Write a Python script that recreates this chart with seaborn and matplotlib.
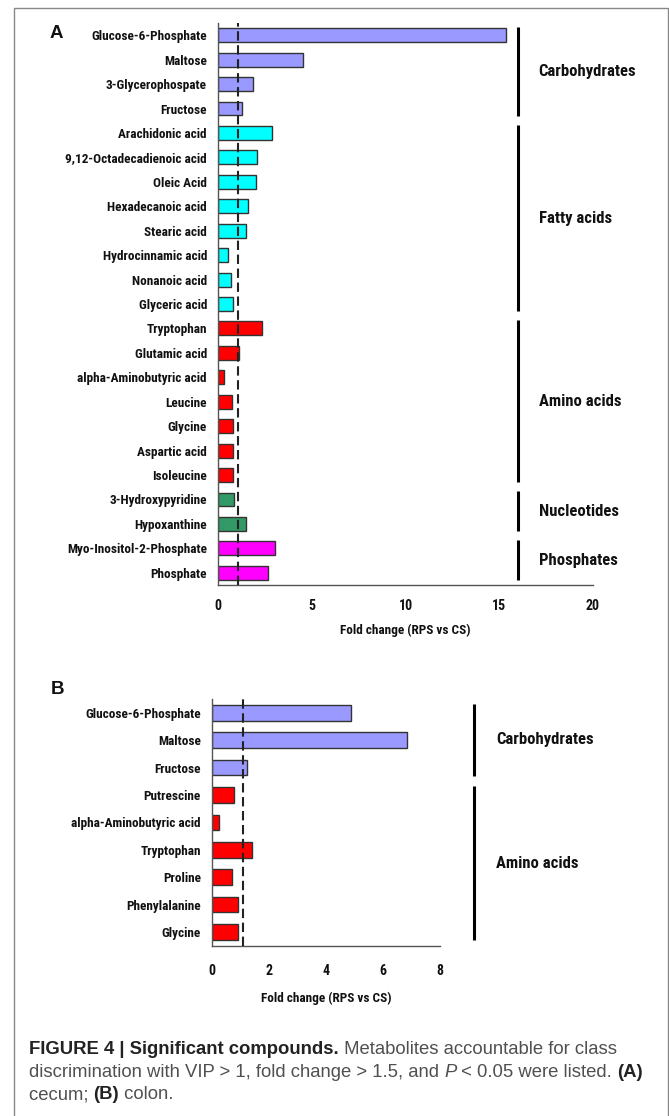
import numpy as np
import pandas as pd
import matplotlib
matplotlib.use("Agg")
import matplotlib.pyplot as plt
import seaborn as sns
from matplotlib.patches import Rectangle

# ---- data ----
cecum_compounds = [
    "Glucose-6-Phosphate", "Maltose", "3-Glycerophospate", "Fructose",
    "Arachidonic acid", "9,12-Octadecadienoic acid", "Oleic Acid",
    "Hexadecanoic acid", "Stearic acid", "Hydrocinnamic acid",
    "Nonanoic acid", "Glyceric acid",
    "Tryptophan", "Glutamic acid", "alpha-Aminobutyric acid", "Leucine",
    "Glycine", "Aspartic acid", "Isoleucine",
    "3-Hydroxypyridine", "Hypoxanthine",
    "Myo-Inositol-2-Phosphate", "Phosphate",
]
cecum_fold = [
    15.37, 4.54, 1.89, 1.30,
    2.90, 2.10, 2.05, 1.62, 1.48, 0.55, 0.68, 0.82,
    2.33, 1.14, 0.30, 0.73, 0.78, 0.82, 0.82,
    0.87, 1.48,
    3.03, 2.65,
]
cecum_group = (["Carbohydrates"] * 4 + ["Fatty acids"] * 8 + ["Amino acids"] * 7
               + ["Nucleotides"] * 2 + ["Phosphates"] * 2)

colon_compounds = [
    "Glucose-6-Phosphate", "Maltose", "Fructose",
    "Putrescine", "alpha-Aminobutyric acid", "Tryptophan", "Proline",
    "Phenylalanine", "Glycine",
]
colon_fold = [4.89, 6.85, 1.22, 0.77, 0.24, 1.41, 0.69, 0.90, 0.90]
colon_group = ["Carbohydrates"] * 3 + ["Amino acids"] * 6

group_colors = {
    "Carbohydrates": "#9999FF",
    "Fatty acids": "#00FFFF",
    "Amino acids": "#FF0000",
    "Nucleotides": "#339966",
    "Phosphates": "#FF00FF",
}

NARROW = ["Roboto Condensed", "DejaVu Sans"]
SANS = ["Liberation Sans", "DejaVu Sans"]
SPINE = "#555555"


def draw_panel(ax, names, fold, groups, xmax, xstep, cutoff, bracket_x, label_x,
               ylim_bottom, tick_pad, xlabel_pad):
    df = pd.DataFrame({"compound": names, "fold": fold, "group": groups})
    sns.barplot(data=df, x="fold", y="compound", hue="group", palette=group_colors,
                dodge=False, width=0.57, edgecolor="#333333", linewidth=1.0,
                saturation=1, legend=False, ax=ax, orient="h")
    ax.axvline(cutoff, color="#222222", lw=1.5, ls=(0, (4.5, 2.2)), zorder=5)

    n = len(names)
    ax.set_xlim(0, xmax)
    ax.set_ylim(ylim_bottom, -0.5)
    ax.set_xticks(np.arange(0, xmax + 0.01, xstep))
    ax.set_yticks(np.arange(-0.5, n, 1.0), minor=True)
    ax.tick_params(axis="y", which="major", length=0, pad=8)
    ax.tick_params(axis="y", which="minor", direction="in", length=4,
                   color=SPINE, width=0.8)
    ax.tick_params(axis="x", direction="in", length=4, color=SPINE, width=0.8,
                   pad=tick_pad)
    for lab in ax.get_yticklabels():
        lab.set_family(NARROW)
        lab.set_fontweight("bold")
        lab.set_fontsize(9.5)
        lab.set_color("#111111")
    for lab in ax.get_xticklabels():
        lab.set_family(NARROW)
        lab.set_fontweight("bold")
        lab.set_fontsize(10)
        lab.set_color("#111111")
    ax.set_ylabel("")
    ax.set_xlabel("Fold change (RPS vs CS)", family=NARROW, fontweight="bold",
                  fontsize=9.5, labelpad=xlabel_pad, color="#111111")
    sns.despine(ax=ax)
    for side in ["left", "bottom"]:
        ax.spines[side].set_color(SPINE)
        ax.spines[side].set_linewidth(1.0)

    # group brackets and names
    seen = []
    for g in groups:
        if g not in seen:
            seen.append(g)
    for g in seen:
        idx = [i for i, gg in enumerate(groups) if gg == g]
        y0, y1 = idx[0] - 0.33, idx[-1] + 0.3
        ax.plot([bracket_x, bracket_x], [y0, y1], color="black", lw=2.2,
                clip_on=False, solid_capstyle="butt")
        ax.text(label_x, (y0 + y1) / 2, g, family=NARROW, fontweight="bold",
                fontsize=12, ha="left", va="center", clip_on=False,
                color="#111111")


def write_runs(fig, x, y, runs, **kw):
    renderer = fig.canvas.get_renderer()
    for text, weight, style, color in runs:
        t = fig.text(x, y, text, fontweight=weight, style=style, ha="left",
                     va="baseline", color=color, **kw)
        bb = t.get_window_extent(renderer=renderer)
        x += bb.width / fig.bbox.width


sns.set_theme(style="white")
plt.rcParams["font.family"] = SANS

fig = plt.figure(figsize=(6.69, 11.16), dpi=100)
W, H = 669, 1116

# outer frame
fig.patches.append(Rectangle((14 / W, -0.02), (668 - 14) / W, 1.02 - 8 / H,
                             transform=fig.transFigure, fill=False,
                             edgecolor="#888888", lw=1.0))

ax_a = fig.add_axes([218 / W, 1 - 585 / H, 375 / W, 562 / H])
draw_panel(ax_a, cecum_compounds, cecum_fold, cecum_group, xmax=20, xstep=5,
           cutoff=1.05, bracket_x=16.0, label_x=17.1, ylim_bottom=22.5,
           tick_pad=10, xlabel_pad=8)

ax_b = fig.add_axes([212 / W, 1 - 945.7 / H, 228 / W, 246.7 / H])
draw_panel(ax_b, colon_compounds, colon_fold, colon_group, xmax=8, xstep=2,
           cutoff=1.1, bracket_x=9.19, label_x=9.97, ylim_bottom=8.38,
           tick_pad=13, xlabel_pad=10)

fig.text(50 / W, 1 - 33 / H, "A", fontsize=13.5, fontweight="bold", va="center",
         family=SANS, color="#111111")
fig.text(51 / W, 1 - 690 / H, "B", fontsize=13.5, fontweight="bold", va="center",
         family=SANS, color="#111111")

REG, BLD = "#505050", "#222222"
cap = dict(fontsize=13.3, family=SANS)
write_runs(fig, 29 / W, 1 - 1054 / H,
           [("FIGURE 4 | Significant compounds.", "bold", "normal", BLD),
            (" Metabolites accountable for class", "normal", "normal", REG)], **cap)
write_runs(fig, 29 / W, 1 - 1077 / H,
           [("discrimination with VIP > 1, fold change > 1.5, and ", "normal", "normal", REG),
            ("P", "normal", "italic", REG),
            (" < 0.05 were listed. ", "normal", "normal", REG),
            ("(A)", "bold", "normal", BLD)], **cap)
write_runs(fig, 29 / W, 1 - 1099 / H,
           [("cecum; ", "normal", "normal", REG),
            ("(B)", "bold", "normal", BLD),
            (" colon.", "normal", "normal", REG)], **cap)

fig.savefig("out.png", dpi=100)
